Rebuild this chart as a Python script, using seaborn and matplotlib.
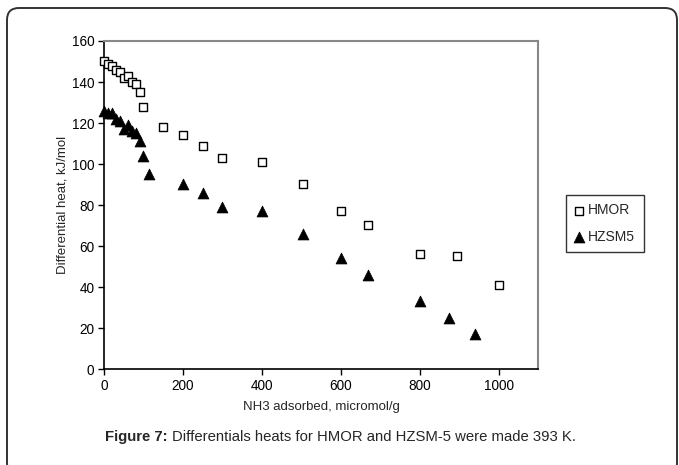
import matplotlib
matplotlib.use("Agg")
import matplotlib.pyplot as plt
from matplotlib.patches import FancyBboxPatch
from matplotlib.transforms import IdentityTransform
import pandas as pd
import seaborn as sns

# NH3 adsorbed (micromol/g) vs differential heat (kJ/mol)
hmor_x = [0, 10, 20, 30, 40, 50, 60, 70, 80, 90, 100, 150, 200, 250, 300, 400,
          505, 600, 670, 800, 895, 1000]
hmor_y = [150, 149, 148, 146, 145, 142, 143, 140, 139, 135, 128, 118, 114, 109, 103, 101,
          90, 77, 70, 56, 55, 41]
hzsm5_x = [0, 10, 20, 30, 40, 50, 60, 70, 80, 90, 100, 115, 200, 250, 300, 400,
           505, 600, 670, 800, 875, 940]
hzsm5_y = [126, 125, 125, 122, 121, 117, 119, 116, 115, 111, 104, 95, 90, 86, 79, 77,
           66, 54, 46, 33, 25, 17]

x_ticks = [0, 200, 400, 600, 800, 1000]
y_ticks = [0, 20, 40, 60, 80, 100, 120, 140, 160]

sns.set_style("white")
plt.rcParams["font.family"] = ["Liberation Sans", "DejaVu Sans"]

W, H = 679, 465
fig = plt.figure(figsize=(W / 100, H / 100), dpi=100)
ax = fig.add_axes([104 / W, 1 - 369 / H, (538 - 104) / W, (369 - 41) / H])

hmor = pd.DataFrame({"x": hmor_x, "y": hmor_y})
hzsm5 = pd.DataFrame({"x": hzsm5_x, "y": hzsm5_y})

sns.scatterplot(data=hmor, x="x", y="y", ax=ax, marker="s", s=40,
                facecolor="white", edgecolor="black", linewidth=1.0,
                label="HMOR", zorder=3, clip_on=False)
sns.scatterplot(data=hzsm5, x="x", y="y", ax=ax, marker="^", s=62,
                color="black", edgecolor="black", linewidth=0.5,
                label="HZSM5", zorder=3, clip_on=False)

ax.set_xlim(0, 1100)
ax.set_ylim(0, 160)
ax.set_xticks(x_ticks)
ax.set_yticks(y_ticks)
ax.tick_params(direction="out", length=4, width=1, colors="black",
               labelsize=9.8, bottom=True, left=True, pad=3)
ax.set_xlabel("NH3 adsorbed, micromol/g", fontsize=9.5, labelpad=6)
ax.set_ylabel("Differential heat, kJ/mol", fontsize=9.5, labelpad=2)

for side in ["left", "bottom"]:
    ax.spines[side].set_color("black")
    ax.spines[side].set_linewidth(1.2)
for side in ["top", "right"]:
    ax.spines[side].set_color("#888888")
    ax.spines[side].set_linewidth(1.5)

ax.get_legend().remove()
handles, labels = ax.get_legend_handles_labels()
leg = fig.legend(handles, labels, loc="upper left",
                 bbox_to_anchor=(566 / W, 1 - 195 / H), frameon=True,
                 fancybox=False, edgecolor="black", fontsize=10,
                 handlelength=0.6, handletextpad=0.4, borderpad=0.6,
                 labelspacing=0.9, borderaxespad=0)
leg.get_frame().set_linewidth(1.0)

# caption: bold prefix followed by regular text
cap_y = 1 - 437 / H
t1 = fig.text(105 / W, cap_y, "Figure 7:", fontsize=10.7, fontweight="bold",
              ha="left", va="center")
fig.canvas.draw()
bb = t1.get_window_extent()
fig.text((bb.x1 + 4) / W, cap_y,
         "Differentials heats for HMOR and HZSM-5 were made 393 K.",
         fontsize=10.7, ha="left", va="center")

# rounded page frame around the figure (drawn in pixels)
frame = FancyBboxPatch((7, -10), 670, H - 8 + 10,
                       boxstyle="round,pad=0,rounding_size=12",
                       transform=IdentityTransform(), fill=False,
                       edgecolor="#333333", linewidth=1.4, clip_on=False)
fig.patches.append(frame)

fig.savefig("out.png", dpi=100)
